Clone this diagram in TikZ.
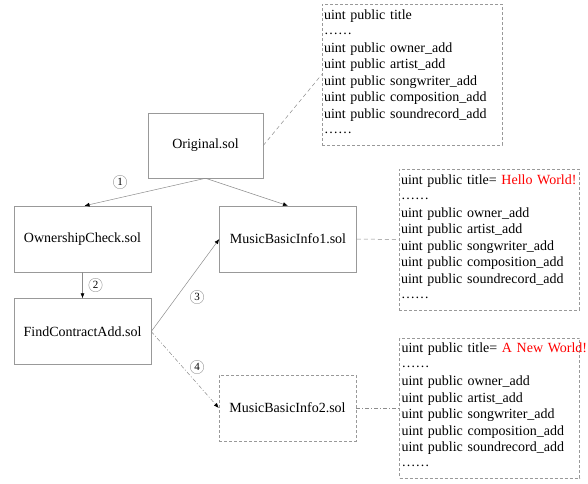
\documentclass[tikz,border=0pt]{standalone}
\usepackage{fontspec}
\setmainfont{Liberation Serif}
\usetikzlibrary{arrows.meta}
% six raised dots standing for omitted fields
\newcommand\elide{\raisebox{0.1em}{……}}
% deeper last line keeps the field list clear of the bottom edge
\newcommand\tailgap{\rule[-5pt]{0pt}{5pt}}
\begin{document}
\begin{tikzpicture}[x=1pt,y=-1pt,
  body/.style={font=\fontsize{14}{16.5}\selectfont},
  file/.style={body, draw=black!40, line width=0.5pt, minimum width=137pt, minimum height=66pt, inner sep=0pt},
  newfile/.style={file, dash pattern=on 3pt off 2pt},
  fields/.style={body, draw=black!40, line width=0.5pt, dash pattern=on 3pt off 2pt,
    text width=176pt, inner xsep=2pt, inner ysep=0pt, align=left, minimum height=141pt},
  link/.style={draw=black!45, line width=0.5pt, -{Latex[length=5pt,width=4pt,color=black]}},
  dashlink/.style={link, dash pattern=on 4pt off 2pt on 1pt off 2pt},
  note/.style={draw=black!45, line width=0.5pt, dash pattern=on 4pt off 3pt},
  dotnote/.style={draw=black!45, line width=0.5pt, dash pattern=on 4pt off 2pt on 1pt off 2pt},
  num/.style={circle, draw=black!40, line width=0.4pt, inner sep=0.5pt, minimum size=13.5pt, font=\fontsize{11}{11}\selectfont}
]
\useasboundingbox (0,0) rectangle (588,483);

% contract files
\node[file, minimum width=115pt, minimum height=65pt] (orig) at (205.5,145.5) {Original.sol};
\node[file] (own)  at (82.5,239)   {OwnershipCheck.sol};
\node[file] (find) at (82.5,331.5) {FindContractAdd.sol};
\node[file] (mbi1) at (288,239)    {MusicBasicInfo1.sol};
\node[newfile] (mbi2) at (287.5,408) {MusicBasicInfo2.sol};

% storage fields
\node[fields] (f0) at (412,74.5) {uint public title\\ \elide\\ uint public owner\_add\\ uint public artist\_add\\ uint public songwriter\_add\\ uint public composition\_add\\ uint public soundrecord\_add\\ \elide\tailgap};
\node[fields] (f1) at (489,239.5) {\mbox{uint public title= {\color{red}Hello World!}}\\ \elide\\ uint public owner\_add\\ uint public artist\_add\\ uint public songwriter\_add\\ uint public composition\_add\\ uint public soundrecord\_add\\ \elide\tailgap};
\node[fields, minimum height=140pt] (f2) at (489.5,408) {\mbox{uint public title= {\color{red}A New World!}}\\ \elide\\ uint public owner\_add\\ uint public artist\_add\\ uint public songwriter\_add\\ uint public composition\_add\\ uint public soundrecord\_add\\ \elide\tailgap};

% call flow
\draw[link] (orig.south) -- ([xshift=2pt]own.north);
\draw[link] (orig.south) -- (mbi1.north);
\draw[link] (own.south) -- (find.north);
\draw[link] (find.east) -- (mbi1.west);
\draw[dashlink] (find.east) -- (mbi2.west);

% field links
\draw[note] (orig.east) -- (f0.west);
\draw[note] (mbi1.east) -- (f1.west);
\draw[dotnote] (mbi2.east) -- (f2.west);

% step numbers
\node[num] (s1) at (120,182) {1};
\node[num] (s2) at (95.5,285) {2};
\node[num] (s3) at (197,297) {3};
\node[num] (s4) at (197,367) {4};
\end{tikzpicture}
\end{document}
